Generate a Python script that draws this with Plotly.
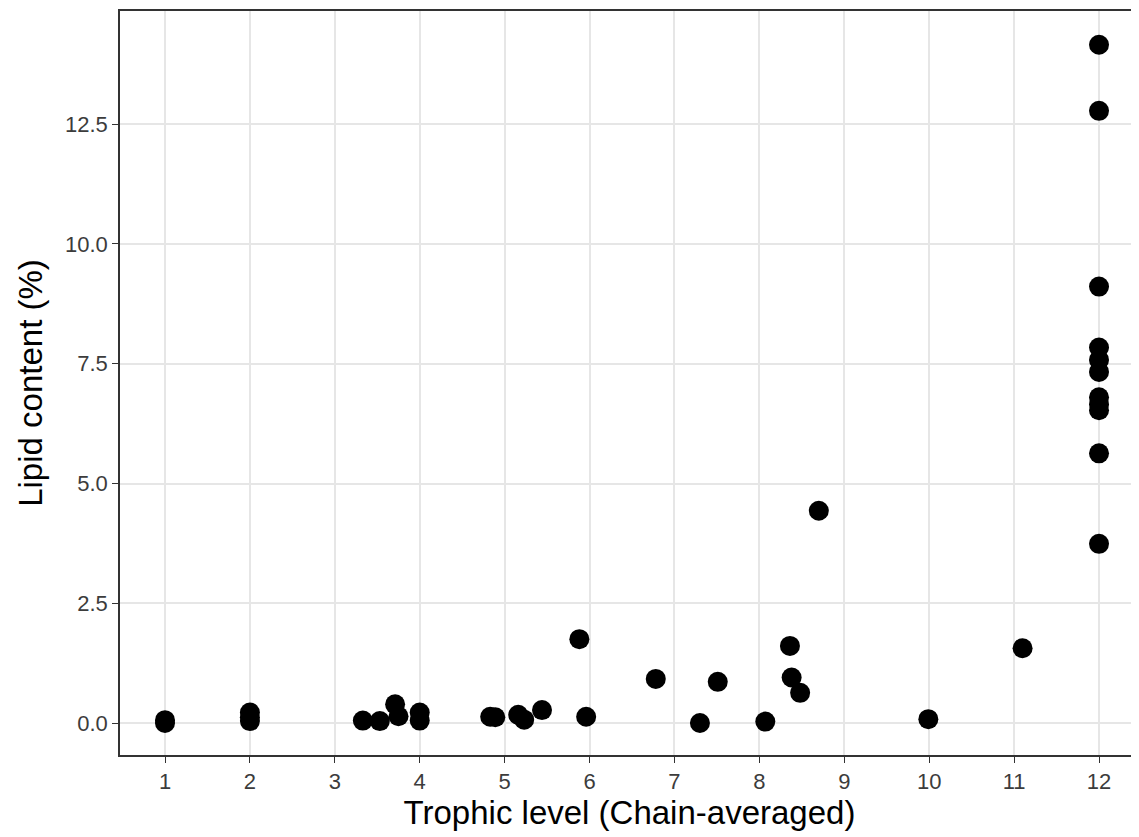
import plotly.graph_objects as go

trophic_level = [1, 1, 2, 2, 2, 3.33, 3.53, 3.71, 3.75, 4.0, 4.0,
                 4.83, 4.89, 5.16, 5.23, 5.44, 5.88, 5.96, 6.78, 7.30,
                 7.51, 8.07, 8.36, 8.38, 8.48, 8.70, 9.99, 11.10,
                 12, 12, 12, 12, 12, 12, 12, 12, 12, 12, 12]
lipid_content = [0.0, 0.06, 0.04, 0.12, 0.22, 0.05, 0.04, 0.39, 0.14, 0.22, 0.05,
                 0.13, 0.12, 0.17, 0.07, 0.27, 1.75, 0.13, 0.92, 0.0,
                 0.86, 0.03, 1.61, 0.95, 0.63, 4.43, 0.08, 1.56,
                 3.74, 5.63, 6.53, 6.65, 6.80, 7.33, 7.58, 7.84, 9.11, 12.78, 14.16]

x_ticks = list(range(1, 13))
y_ticks = [0.0, 2.5, 5.0, 7.5, 10.0, 12.5]
y_tick_labels = ["0.0", "2.5", "5.0", "7.5", "10.0", "12.5"]

FONT = "Liberation Sans, Arial, Helvetica"

fig = go.Figure(go.Scatter(
    x=trophic_level, y=lipid_content, mode="markers",
    marker=dict(color="black", size=20, line=dict(width=0)),
    hoverinfo="x+y",
))

axis_common = dict(
    showgrid=True, gridcolor="#E6E6E6", gridwidth=1.8,
    zeroline=False, showline=True, linecolor="#333333", linewidth=1.6,
    ticks="outside", ticklen=6, tickwidth=1.3, tickcolor="#333333",
    tickfont=dict(family=FONT, size=22, color="#3C3C3C"),
)

fig.update_xaxes(
    **axis_common, range=[0.47, 12.471], tickvals=x_ticks, mirror=True,
    title=dict(text="Trophic level (Chain-averaged)", standoff=5,
               font=dict(family=FONT, size=33, color="black")),
)
fig.update_yaxes(
    **axis_common, range=[-0.668, 14.864], tickvals=y_ticks, ticktext=y_tick_labels,
    title=dict(text="Lipid content (%)", standoff=12,
               font=dict(family=FONT, size=33, color="black")),
)

fig.update_layout(
    width=1131, height=829,
    margin=dict(l=112, r=0, t=3, b=82),
    plot_bgcolor="white", paper_bgcolor="white",
    showlegend=False,
)

fig.write_html("out.html")
